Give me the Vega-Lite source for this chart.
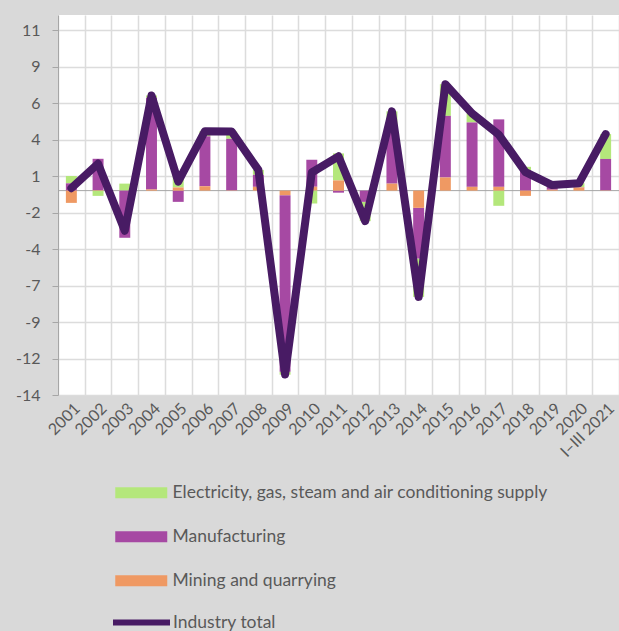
{
  "$schema": "https://vega.github.io/schema/vega-lite/v6.json",
  "width": 561,
  "height": 380,
  "autosize": {"type": "none"},
  "padding": {"left": 58, "top": 15, "right": 0, "bottom": 236},
  "background": "#d9d9d9",
  "config": {
    "view": {"fill": "white", "stroke": null},
    "font": "Lato",
    "axis": {"labelFont": "Lato", "labelFontSize": 16, "labelColor": "#595959", "title": null, "gridColor": "#dcdcdc", "gridWidth": 1.5, "labelOverlap": false}
  },
  "datasets": {
    "parts": [
      {"year": "2001", "series": "Electricity, gas, steam and air conditioning supply", "value": 0.5, "ord": 3},
      {"year": "2001", "series": "Manufacturing", "value": 0.5, "ord": 2},
      {"year": "2001", "series": "Mining and quarrying", "value": -0.84, "ord": 1},
      {"year": "2002", "series": "Electricity, gas, steam and air conditioning supply", "value": -0.36, "ord": 3},
      {"year": "2002", "series": "Manufacturing", "value": 2.15, "ord": 2},
      {"year": "2002", "series": "Mining and quarrying", "value": 0.03, "ord": 1},
      {"year": "2003", "series": "Electricity, gas, steam and air conditioning supply", "value": 0.48, "ord": 3},
      {"year": "2003", "series": "Manufacturing", "value": -3.23, "ord": 2},
      {"year": "2003", "series": "Mining and quarrying", "value": 0.0, "ord": 1},
      {"year": "2004", "series": "Electricity, gas, steam and air conditioning supply", "value": 0.16, "ord": 3},
      {"year": "2004", "series": "Manufacturing", "value": 6.28, "ord": 2},
      {"year": "2004", "series": "Mining and quarrying", "value": 0.08, "ord": 1},
      {"year": "2005", "series": "Electricity, gas, steam and air conditioning supply", "value": 0.9, "ord": 3},
      {"year": "2005", "series": "Manufacturing", "value": -0.77, "ord": 2},
      {"year": "2005", "series": "Mining and quarrying", "value": 0.22, "ord": 1},
      {"year": "2006", "series": "Electricity, gas, steam and air conditioning supply", "value": 0.35, "ord": 3},
      {"year": "2006", "series": "Manufacturing", "value": 3.42, "ord": 2},
      {"year": "2006", "series": "Mining and quarrying", "value": 0.3, "ord": 1},
      {"year": "2007", "series": "Electricity, gas, steam and air conditioning supply", "value": 0.5, "ord": 3},
      {"year": "2007", "series": "Manufacturing", "value": 3.53, "ord": 2},
      {"year": "2007", "series": "Mining and quarrying", "value": 0.02, "ord": 1},
      {"year": "2008", "series": "Electricity, gas, steam and air conditioning supply", "value": 0.34, "ord": 3},
      {"year": "2008", "series": "Manufacturing", "value": 0.82, "ord": 2},
      {"year": "2008", "series": "Mining and quarrying", "value": 0.26, "ord": 1},
      {"year": "2009", "series": "Electricity, gas, steam and air conditioning supply", "value": -0.2, "ord": 3},
      {"year": "2009", "series": "Manufacturing", "value": -12.1, "ord": 2},
      {"year": "2009", "series": "Mining and quarrying", "value": -0.31, "ord": 1},
      {"year": "2010", "series": "Electricity, gas, steam and air conditioning supply", "value": -0.88, "ord": 3},
      {"year": "2010", "series": "Manufacturing", "value": 1.85, "ord": 2},
      {"year": "2010", "series": "Mining and quarrying", "value": 0.27, "ord": 1},
      {"year": "2011", "series": "Electricity, gas, steam and air conditioning supply", "value": 1.85, "ord": 3},
      {"year": "2011", "series": "Manufacturing", "value": -0.14, "ord": 2},
      {"year": "2011", "series": "Mining and quarrying", "value": 0.7, "ord": 1},
      {"year": "2012", "series": "Electricity, gas, steam and air conditioning supply", "value": -1.32, "ord": 3},
      {"year": "2012", "series": "Manufacturing", "value": -0.77, "ord": 2},
      {"year": "2012", "series": "Mining and quarrying", "value": 0.0, "ord": 1},
      {"year": "2013", "series": "Electricity, gas, steam and air conditioning supply", "value": 1.4, "ord": 3},
      {"year": "2013", "series": "Manufacturing", "value": 3.55, "ord": 2},
      {"year": "2013", "series": "Mining and quarrying", "value": 0.48, "ord": 1},
      {"year": "2014", "series": "Electricity, gas, steam and air conditioning supply", "value": -2.63, "ord": 3},
      {"year": "2014", "series": "Manufacturing", "value": -3.47, "ord": 2},
      {"year": "2014", "series": "Mining and quarrying", "value": -1.18, "ord": 1},
      {"year": "2015", "series": "Electricity, gas, steam and air conditioning supply", "value": 2.17, "ord": 3},
      {"year": "2015", "series": "Manufacturing", "value": 4.22, "ord": 2},
      {"year": "2015", "series": "Mining and quarrying", "value": 0.9, "ord": 1},
      {"year": "2016", "series": "Electricity, gas, steam and air conditioning supply", "value": 0.62, "ord": 3},
      {"year": "2016", "series": "Manufacturing", "value": 4.41, "ord": 2},
      {"year": "2016", "series": "Mining and quarrying", "value": 0.26, "ord": 1},
      {"year": "2017", "series": "Electricity, gas, steam and air conditioning supply", "value": -1.04, "ord": 3},
      {"year": "2017", "series": "Manufacturing", "value": 4.62, "ord": 2},
      {"year": "2017", "series": "Mining and quarrying", "value": 0.26, "ord": 1},
      {"year": "2018", "series": "Electricity, gas, steam and air conditioning supply", "value": 0.23, "ord": 3},
      {"year": "2018", "series": "Manufacturing", "value": 1.4, "ord": 2},
      {"year": "2018", "series": "Mining and quarrying", "value": -0.36, "ord": 1},
      {"year": "2019", "series": "Electricity, gas, steam and air conditioning supply", "value": 0.08, "ord": 3},
      {"year": "2019", "series": "Manufacturing", "value": 0.22, "ord": 2},
      {"year": "2019", "series": "Mining and quarrying", "value": 0.06, "ord": 1},
      {"year": "2020", "series": "Electricity, gas, steam and air conditioning supply", "value": 0.27, "ord": 3},
      {"year": "2020", "series": "Manufacturing", "value": 0.02, "ord": 2},
      {"year": "2020", "series": "Mining and quarrying", "value": 0.22, "ord": 1},
      {"year": "I–III 2021", "series": "Electricity, gas, steam and air conditioning supply", "value": 1.7, "ord": 3},
      {"year": "I–III 2021", "series": "Manufacturing", "value": 2.15, "ord": 2},
      {"year": "I–III 2021", "series": "Mining and quarrying", "value": 0.02, "ord": 1}
    ],
    "totals": [
      {"year": "2001", "total": 0.17},
      {"year": "2002", "total": 1.85},
      {"year": "2003", "total": -2.75},
      {"year": "2004", "total": 6.52},
      {"year": "2005", "total": 0.62},
      {"year": "2006", "total": 4.07},
      {"year": "2007", "total": 4.05},
      {"year": "2008", "total": 1.42},
      {"year": "2009", "total": -12.6},
      {"year": "2010", "total": 1.24},
      {"year": "2011", "total": 2.35},
      {"year": "2012", "total": -2.09},
      {"year": "2013", "total": 5.43},
      {"year": "2014", "total": -7.28},
      {"year": "2015", "total": 7.29},
      {"year": "2016", "total": 5.29},
      {"year": "2017", "total": 3.84},
      {"year": "2018", "total": 1.27},
      {"year": "2019", "total": 0.38},
      {"year": "2020", "total": 0.5},
      {"year": "I–III 2021", "total": 3.87}
    ]
  },
  "layer": [
    {
      "data": {"values": [{}]},
      "mark": {"type": "rule", "color": "#a6a6a6", "strokeWidth": 1},
      "encoding": {"y": {"datum": 0, "type": "quantitative"}}
    },
    {
      "data": {"name": "parts"},
      "mark": {"type": "bar", "width": {"band": 0.41}},
      "encoding": {
        "x": {
          "field": "year", "type": "ordinal", "sort": null,
          "scale": {"paddingInner": 0, "paddingOuter": 0},
          "axis": {"title": null, "tickBand": "extent", "grid": true, "ticks": false, "domain": false, "labelAngle": -45, "labelPadding": 5}
        },
        "y": {
          "field": "value", "type": "quantitative", "stack": "zero",
          "scale": {"domain": [-14, 12.03], "nice": false, "zero": false},
          "axis": {
            "title": null,
            "values": [-14, -11.5, -9, -6.5, -4, -1.5, 1, 3.5, 6, 8.5, 11],
            "tickCount": 30,
            "labelExpr": "datum.value < 0 ? '-' + round(-datum.value) : '' + round(datum.value)",
            "labelOverlap": false,
            "grid": true, "domainColor": "#a6a6a6", "tickColor": "#a6a6a6", "tickSize": 6, "labelPadding": 12
          }
        },
        "color": {
          "field": "series", "type": "nominal",
          "scale": {
            "domain": ["Electricity, gas, steam and air conditioning supply", "Manufacturing", "Mining and quarrying"],
            "range": ["#b4e77b", "#a649a3", "#ef9963"]
          },
          "legend": {
            "title": null, "orient": "none", "legendX": 74.5, "legendY": 469, "direction": "vertical",
            "symbolType": "M-4.727,-1H4.727V1H-4.727Z", "symbolSize": 121, "symbolStrokeWidth": 0,
            "rowPadding": 25, "labelOffset": 22.5, "labelFontSize": 17.5, "labelFont": "Lato",
            "labelColor": "#595959", "padding": 0, "labelLimit": 600
          }
        },
        "order": {"field": "ord", "type": "quantitative"}
      }
    },
    {
      "data": {"name": "totals"},
      "mark": {"type": "line", "strokeWidth": 8, "strokeJoin": "round", "strokeCap": "round"},
      "encoding": {
        "x": {"field": "year", "type": "ordinal", "sort": null},
        "y": {"field": "total", "type": "quantitative"},
        "stroke": {
          "datum": "Industry total", "type": "nominal",
          "scale": {"range": ["#481b64"]},
          "legend": {
            "title": null, "orient": "none", "legendX": 52, "legendY": 576,
            "symbolType": "stroke", "symbolSize": 3249, "symbolStrokeWidth": 6,
            "labelOffset": 0, "labelFontSize": 17.5, "labelFont": "Lato", "labelColor": "#595959",
            "padding": 0, "labelLimit": 500
          }
        }
      }
    }
  ]
}
